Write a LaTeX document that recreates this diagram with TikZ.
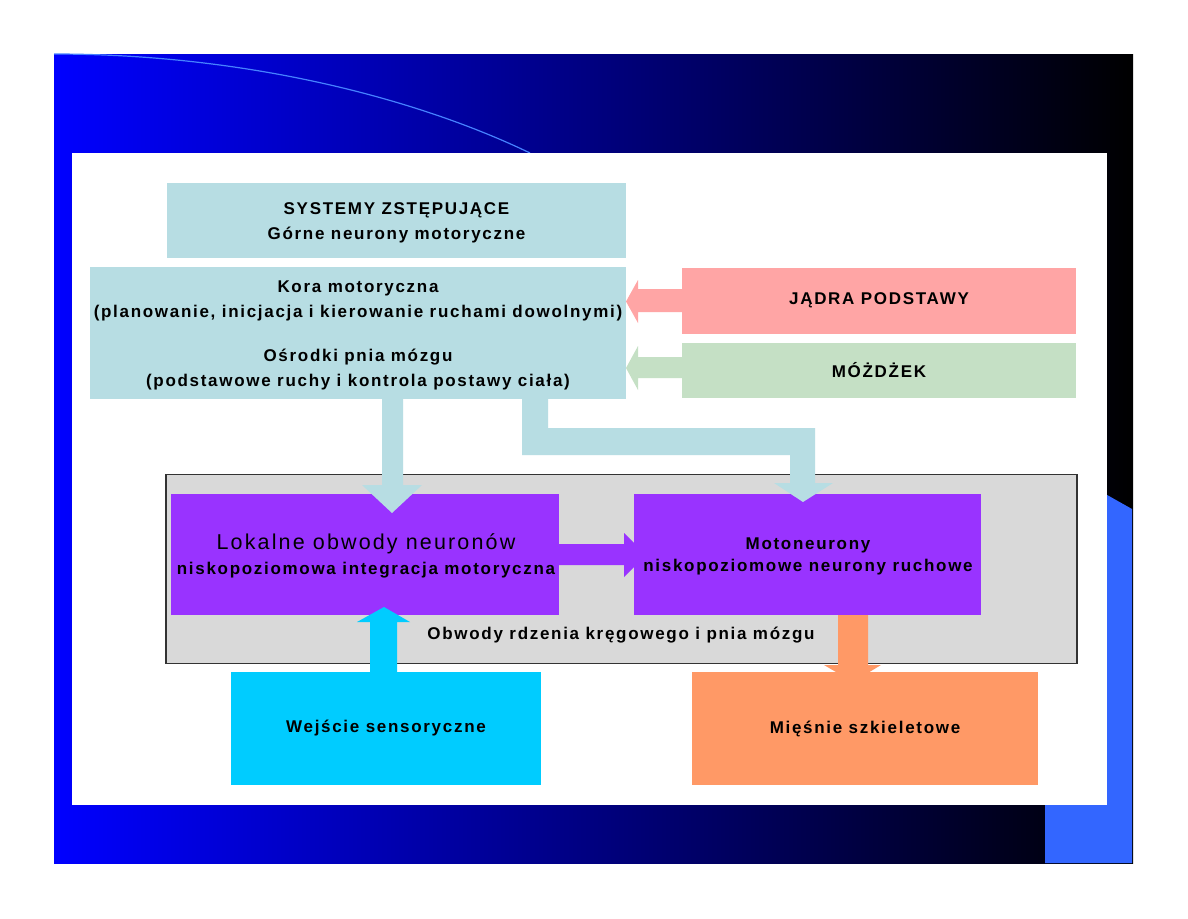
\documentclass[tikz,border=0pt]{standalone}
\usepackage{fontspec}
\setmainfont{Liberation Sans}[LetterSpace=10]
\usetikzlibrary{calc}
\definecolor{cteal}{RGB}{183,221,227}
\definecolor{cpink}{RGB}{255,165,165}
\definecolor{cgreen}{RGB}{197,224,197}
\definecolor{cpurple}{RGB}{153,51,255}
\definecolor{cgrey}{RGB}{217,217,217}
\definecolor{ccyan}{RGB}{0,204,255}
\definecolor{corange}{RGB}{255,153,102}
\definecolor{cslide}{RGB}{51,102,255}
\definecolor{carc}{RGB}{70,130,255}
\begin{document}
\begin{tikzpicture}[x=1pt,y=-1pt,
  blk/.style={rectangle,inner sep=0pt,outer sep=0pt,align=center},
  lbl/.style={inner sep=0pt,align=center,font=\bfseries\fontsize{17}{24.5}\selectfont},
  lbls/.style={inner sep=0pt,align=center,font=\bfseries\fontsize{17}{22}\selectfont}]
\useasboundingbox (0,0) rectangle (1188,918);
\fill[white] (0,0) rectangle (1188,918);
% slide background
\shade[left color={rgb,255:red,0;green,0;blue,255}, right color=black] (54,54) rectangle (1133,863);
\fill[cslide] (1045,460) -- (1132,509) -- (1132,863) -- (1045,863) -- cycle;
\draw[carc, line width=1.2pt] (54,54) .. controls (250,54) and (420,100) .. (530,153);
\fill[white] (72,153) rectangle (1107,805);
% boxes
\node[blk, fill=cteal, minimum width=459, minimum height=75] (sys) at (396.5,220.5) {};
\node[lbl] (syst) at (396.5,223) {SYSTEMY ZSTĘPUJĄCE\\Górne neurony motoryczne};
\node[blk, fill=cteal, minimum width=536, minimum height=132] (kora) at (358,333) {};
\node[lbl] (korat) at (358,301) {Kora motoryczna\\(planowanie, inicjacja i kierowanie ruchami dowolnymi)};
\node[lbl] (osrt) at (358,369.5) {Ośrodki pnia mózgu\\(podstawowe ruchy i kontrola postawy ciała)};
\node[blk, fill=cpink, minimum width=394, minimum height=66, font=\bfseries\fontsize{17}{24}\selectfont] (jadra) at (879,300.5) {JĄDRA PODSTAWY};
\node[blk, fill=cgreen, minimum width=394, minimum height=55, font=\bfseries\fontsize{17}{24}\selectfont] (mozd) at (879,370.5) {MÓŻDŻEK};
\node[blk, fill=cgrey, draw=black!80, line width=1.3pt, minimum width=911, minimum height=189] (grey) at (621.5,569) {};
\node[lbls] (greyt) at (621,635) {Obwody rdzenia kręgowego i pnia mózgu};
\node[blk, fill=cpurple, minimum width=388, minimum height=121] (lok) at (365,554.5) {};
\node[inner sep=0pt, font=\fontsize{21.5}{24}\selectfont] (lokt1) at (366,544) {Lokalne obwody neuronów};
\node[lbls] (lokt2) at (366,570) {niskopoziomowa integracja motoryczna};
\node[blk, fill=cpurple, minimum width=347, minimum height=121] (moto) at (807.5,554.5) {};
\node[lbls] (motot) at (808,556) {Motoneurony\\niskopoziomowe neurony ruchowe};
\node[blk, fill=ccyan, minimum width=310, minimum height=113, font=\bfseries\fontsize{17}{22}\selectfont] (sens) at (386,728.5) {Wejście sensoryczne};
\node[blk, fill=corange, minimum width=346, minimum height=113, font=\bfseries\fontsize{17}{22}\selectfont] (mies) at (865,728.5) {Mięśnie szkieletowe};
% block arrows
\fill[cpink] (jadra.west |- 0,289) -- (638,289) -- (638,280) -- (kora.east |- 0,301.5) -- (638,323) -- (638,312) -- (jadra.west |- 0,312) -- cycle;
\fill[cgreen] (mozd.west |- 0,357) -- (638,357) -- (638,346) -- (kora.east |- 0,368) -- (638,390) -- (638,378) -- (mozd.west |- 0,378) -- cycle;
\fill[cteal] (382,0 |- kora.south) -- (382,485) -- (362,485) -- (392,513) -- (422,485) -- (403,485) -- (403,0 |- kora.south) -- cycle;
\fill[cteal] (522,0 |- kora.south) -- (522,455) -- (790,455) -- (790,483) -- (774,483) -- (803,502) -- (833,483) -- (815,483) -- (815,428) -- (548,428) -- (548,0 |- kora.south) -- cycle;
\fill[cpurple] (lok.east |- 0,544) -- (624,544) -- (624,533) -- (646,555) -- (624,577) -- (624,565) -- (lok.east |- 0,565) -- cycle;
\fill[ccyan] (370,0 |- sens.north) -- (370,622) -- (357,622) -- (384,607) -- (410,622) -- (397,622) -- (397,0 |- sens.north) -- cycle;
\fill[corange] (838,0 |- moto.south) -- (838,665) -- (824,665) -- (853,682) -- (881,665) -- (868,665) -- (868,0 |- moto.south) -- cycle;
\end{tikzpicture}
\end{document}
